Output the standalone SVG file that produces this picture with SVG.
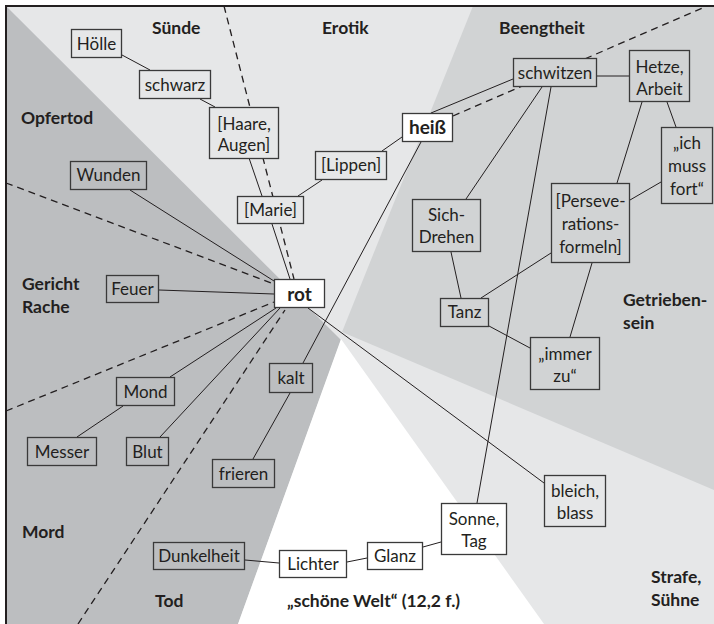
<svg xmlns="http://www.w3.org/2000/svg" width="714" height="624" viewBox="0 0 714 624">
<style>
text{font-family:Lato,"Open Sans",sans-serif;fill:#231f20}
.t{font-size:17px;text-anchor:middle}
.lb{font-size:17.5px;font-weight:700}
.b{stroke:#3a3a3a;stroke-width:1.3}
.L{fill:#e6e7e8}.M{fill:#d1d3d4}.D{fill:#bcbec0}.W{fill:#fff}
.c line{stroke:#231f20;stroke-width:1}
.d line{stroke:#231f20;stroke-width:1.3;stroke-dasharray:7 5}
.bold{font-weight:700;font-size:19px}
</style>
<g id="background">
<rect x="6" y="6" width="708" height="618" class="L"/>
<polygon points="473,6 714,6 714,490 342,332" class="M"/>
<polygon points="6,6 341,340 238,624 6,624" class="D"/>
<polygon points="341,339 544,624 238,624" class="W"/>
<path d="M6,624 V6 H714" fill="none" stroke="#231f20" stroke-width="2"/>
</g>
<g id="labels" class="lb">
<text x="152" y="34">Sünde</text>
<text x="322" y="34">Erotik</text>
<text x="499" y="34">Beengtheit</text>
<text x="21" y="124">Opfertod</text>
<text x="22" y="290">Gericht</text>
<text x="22" y="313">Rache</text>
<text x="623" y="306">Getrieben-</text>
<text x="623" y="329">sein</text>
<text x="22" y="538">Mord</text>
<text x="155" y="607">Tod</text>
<text x="287" y="607">„schöne Welt“ (12,2 f.)</text>
<text x="651" y="583">Strafe,</text>
<text x="651" y="606">Sühne</text>
</g>
<g id="dividers" class="d">
<line x1="224" y1="6" x2="294" y2="279"/>
<line x1="6" y1="183" x2="274" y2="284"/>
<line x1="6" y1="411" x2="274" y2="302"/>
<line x1="78" y1="624" x2="285" y2="310"/>
<line x1="453" y1="116" x2="707" y2="6"/>
</g>
<g id="connectors" class="c">
<line x1="122" y1="55" x2="150" y2="70"/>
<line x1="200" y1="99" x2="215" y2="107"/>
<line x1="249" y1="158" x2="262" y2="196"/>
<line x1="272" y1="224" x2="290" y2="279"/>
<line x1="298" y1="196" x2="322" y2="180"/>
<line x1="382" y1="151" x2="402" y2="137"/>
<line x1="431" y1="113" x2="513" y2="79"/>
<line x1="597" y1="76" x2="629" y2="76"/>
<line x1="667" y1="102" x2="676" y2="127"/>
<line x1="642" y1="102" x2="617" y2="183"/>
<line x1="661" y1="182" x2="630" y2="200"/>
<line x1="542" y1="87" x2="466" y2="199"/>
<line x1="551" y1="87" x2="477" y2="503"/>
<line x1="451" y1="252" x2="461" y2="298"/>
<line x1="481" y1="298" x2="551" y2="253"/>
<line x1="489" y1="326" x2="530" y2="348"/>
<line x1="592" y1="263" x2="570" y2="337"/>
<line x1="130" y1="190" x2="274" y2="281"/>
<line x1="159" y1="290" x2="274" y2="294"/>
<line x1="170" y1="377" x2="276" y2="308"/>
<line x1="123" y1="406" x2="77" y2="437"/>
<line x1="160" y1="437" x2="280" y2="308"/>
<line x1="303" y1="363" x2="421" y2="142"/>
<line x1="290" y1="393" x2="253" y2="459"/>
<line x1="308" y1="308" x2="544" y2="483"/>
<line x1="441" y1="542" x2="423" y2="547"/>
<line x1="347" y1="562" x2="367" y2="558"/>
<line x1="245" y1="560" x2="279" y2="563"/>
</g>
<g id="hoelle"><rect x="71.5" y="29.5" width="50" height="28" class="b L"/><text class="t" x="96.5" y="49.5">Hölle</text></g>
<g id="schwarz"><rect x="139.5" y="70.5" width="71" height="28" class="b L"/><text class="t" x="175" y="90.5">schwarz</text></g>
<g id="haare"><rect x="209.5" y="107.5" width="69" height="51" class="b L"/><text class="t" x="244" y="129.5">[Haare,</text><text class="t" x="244" y="151">Augen]</text></g>
<g id="marie"><rect x="237.5" y="196.5" width="66" height="27" class="b L"/><text class="t" x="270.5" y="216">[Marie]</text></g>
<g id="lippen"><rect x="315.5" y="151.5" width="71" height="28" class="b L"/><text class="t" x="351" y="171">[Lippen]</text></g>
<g id="heiss"><rect x="402.5" y="113.5" width="50" height="28" class="b W"/><text class="t bold" x="427.5" y="134">heiß</text></g>
<g id="schwitzen"><rect x="513.5" y="58.5" width="83" height="28" class="b M"/><text class="t" x="555" y="78.5">schwitzen</text></g>
<g id="hetze"><rect x="629.5" y="50.5" width="60" height="51" class="b M"/><text class="t" x="659.5" y="73">Hetze,</text><text class="t" x="659.5" y="94.5">Arbeit</text></g>
<g id="ichmuss"><rect x="661.5" y="127.5" width="51" height="76" class="b M"/><text class="t" x="687" y="149">„ich</text><text class="t" x="687" y="172">muss</text><text class="t" x="687" y="194.5">fort“</text></g>
<g id="persev"><rect x="551.5" y="183.5" width="78" height="79" class="b M"/><text class="t" x="590.5" y="207">[Perseve-</text><text class="t" x="590.5" y="230">rations-</text><text class="t" x="590.5" y="253">formeln]</text></g>
<g id="sichdrehen"><rect x="412.5" y="199.5" width="68" height="52" class="b M"/><text class="t" x="446.5" y="220.5">Sich-</text><text class="t" x="446.5" y="243">Drehen</text></g>
<g id="tanz"><rect x="440.5" y="298.5" width="48" height="28" class="b M"/><text class="t" x="464.5" y="318">Tanz</text></g>
<g id="immerzu"><rect x="530.5" y="337.5" width="69" height="52" class="b M"/><text class="t" x="565" y="360">„immer</text><text class="t" x="565" y="382">zu“</text></g>
<g id="rot"><rect x="274.5" y="279.5" width="50" height="28" class="b W"/><text class="t bold" x="299.5" y="300.5">rot</text></g>
<g id="wunden"><rect x="70.5" y="161.5" width="76" height="28" class="b D"/><text class="t" x="108.5" y="181">Wunden</text></g>
<g id="feuer"><rect x="106.5" y="275.5" width="52" height="27" class="b D"/><text class="t" x="132.5" y="295">Feuer</text></g>
<g id="mond"><rect x="116.5" y="377.5" width="58" height="28" class="b D"/><text class="t" x="145.5" y="397.5">Mond</text></g>
<g id="messer"><rect x="27.5" y="437.5" width="69" height="28" class="b D"/><text class="t" x="62" y="457.5">Messer</text></g>
<g id="blut"><rect x="126.5" y="437.5" width="42" height="28" class="b D"/><text class="t" x="147.5" y="457.5">Blut</text></g>
<g id="kalt"><rect x="269.5" y="363.5" width="43" height="29" class="b D"/><text class="t" x="291" y="384">kalt</text></g>
<g id="frieren"><rect x="212.5" y="459.5" width="62" height="28" class="b D"/><text class="t" x="243.5" y="479.5">frieren</text></g>
<g id="dunkelheit"><rect x="153.5" y="542.5" width="91" height="27" class="b D"/><text class="t" x="199" y="562">Dunkelheit</text></g>
<g id="lichter"><rect x="279.5" y="550.5" width="67" height="27" class="b W"/><text class="t" x="313" y="570">Lichter</text></g>
<g id="glanz"><rect x="367.5" y="542.5" width="55" height="27" class="b W"/><text class="t" x="395" y="562">Glanz</text></g>
<g id="sonne"><rect x="441.5" y="503.5" width="65" height="51" class="b W"/><text class="t" x="474" y="525">Sonne,</text><text class="t" x="474" y="547">Tag</text></g>
<g id="bleich"><rect x="544.5" y="475.5" width="61" height="51" class="b L"/><text class="t" x="575" y="497">bleich,</text><text class="t" x="575" y="518.5">blass</text></g>
</svg>
